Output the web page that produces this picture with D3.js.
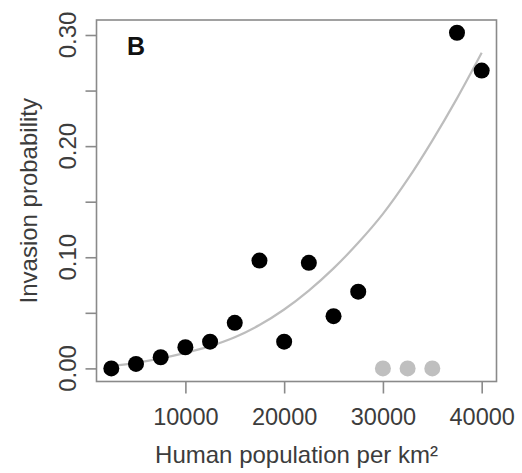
<!DOCTYPE html>
<html>
<head>
<meta charset="utf-8">
<script src="https://cdn.jsdelivr.net/npm/d3@7"></script>
<style>
  body { margin: 0; background: #fff; }
  svg { display: block; font-family: "Liberation Sans", Arial, sans-serif; }
</style>
</head>
<body>
<svg id="chart" width="522" height="473"></svg>
<script>
// observed invasion probability per density class (black points)
var popX = [2500, 5000, 7500, 10000, 12500, 15000, 17500, 20000, 22500, 25000, 27500, 37500, 40000];
var probY = [0.000, 0.004, 0.010, 0.019, 0.024, 0.041, 0.097, 0.024, 0.095, 0.047, 0.069, 0.302, 0.268];

// classes with no data (grey points)
var emptyX = [30000, 32500, 35000];
var emptyY = [0, 0, 0];

// fitted curve
var fitX = [2500, 5000, 7500, 10000, 12500, 15000, 17500, 20000, 22500, 25000, 27500, 30000, 32500, 35000, 37500, 40000];
var fitY = [0.002, 0.005, 0.009, 0.014, 0.020, 0.028, 0.039, 0.053, 0.070, 0.090, 0.113, 0.139, 0.170, 0.205, 0.243, 0.284];

var xTicks = [10000, 20000, 30000, 40000];
var yTicks = [0, 0.05, 0.10, 0.15, 0.20, 0.25, 0.30];
var yLabels = [0, 0.10, 0.20, 0.30];

var svg = d3.select('#chart');
var boxL = 96.5, boxR = 496.5, boxT = 20, boxB = 381.5;
var textCol = '#3c3c3c';
var axisCol = '#8a8a8a';

var x = d3.scaleLinear().domain([1000, 41500]).range([boxL, boxR]);
var y = d3.scaleLinear().domain([-0.0118, 0.3135]).range([boxB, boxT]);

//box
svg.append('rect')
    .attr('x', boxL).attr('y', boxT)
    .attr('width', boxR - boxL).attr('height', boxB - boxT)
    .attr('fill', 'none').attr('stroke', axisCol).attr('stroke-width', 1.6);

//x axis
var xAxis = svg.append('g')
    .attr('transform', 'translate(0,' + boxB + ')')
    .call(d3.axisBottom(x).tickValues(xTicks).tickSize(12).tickSizeOuter(0).tickFormat(d3.format('d')));
xAxis.select('.domain').remove();
xAxis.selectAll('line').attr('stroke', axisCol).attr('stroke-width', 1.6);
xAxis.selectAll('text')
    .attr('fill', textCol)
    .attr('font-size', 23.5)
    .attr('dy', null)
    .attr('y', 43);

//y axis (ticks every 0.05, labels every 0.10)
var yAxis = svg.append('g')
    .attr('transform', 'translate(' + boxL + ',0)')
    .call(d3.axisLeft(y).tickValues(yTicks).tickSize(11).tickSizeOuter(0).tickFormat(''));
yAxis.select('.domain').remove();
yAxis.selectAll('line').attr('stroke', axisCol).attr('stroke-width', 1.6);

svg.append('g').selectAll('text')
    .data(yLabels)
    .enter().append('text')
    .attr('transform', function (d) {
        return 'translate(76,' + y(d) + ') rotate(-90)';
    })
    .attr('text-anchor', 'middle')
    .attr('fill', textCol)
    .attr('font-size', 24)
    .text(d3.format('.2f'));

//axis titles
svg.append('text')
    .attr('x', (boxL + boxR) / 2)
    .attr('y', 463)
    .attr('text-anchor', 'middle')
    .attr('fill', textCol)
    .attr('font-size', 24)
    .text('Human population per km\u00b2');

svg.append('text')
    .attr('transform', 'translate(37,' + (boxT + boxB) / 2 + ') rotate(-90)')
    .attr('text-anchor', 'middle')
    .attr('fill', textCol)
    .attr('font-size', 24)
    .text('Invasion probability');

//panel letter
svg.append('text')
    .attr('x', 127)
    .attr('y', 55)
    .attr('font-size', 25)
    .attr('font-weight', 'bold')
    .attr('fill', '#111')
    .text('B');

//fitted curve
var line = d3.line()
    .x(function (d, i) { return x(fitX[i]); })
    .y(function (d) { return y(d); })
    .curve(d3.curveCatmullRom);

svg.append('path')
    .datum(fitY)
    .attr('d', line)
    .attr('fill', 'none')
    .attr('stroke', '#bdbdbd')
    .attr('stroke-width', 2.2);

//grey points
svg.append('g').selectAll('circle')
    .data(emptyY)
    .enter().append('circle')
    .attr('cx', function (d, i) { return x(emptyX[i]); })
    .attr('cy', function (d) { return y(d); })
    .attr('r', 8)
    .attr('fill', '#bfbfbf');

//black points
svg.append('g').selectAll('circle')
    .data(probY)
    .enter().append('circle')
    .attr('cx', function (d, i) { return x(popX[i]); })
    .attr('cy', function (d) { return y(d); })
    .attr('r', 8)
    .attr('fill', '#000');
</script>
</body>
</html>
